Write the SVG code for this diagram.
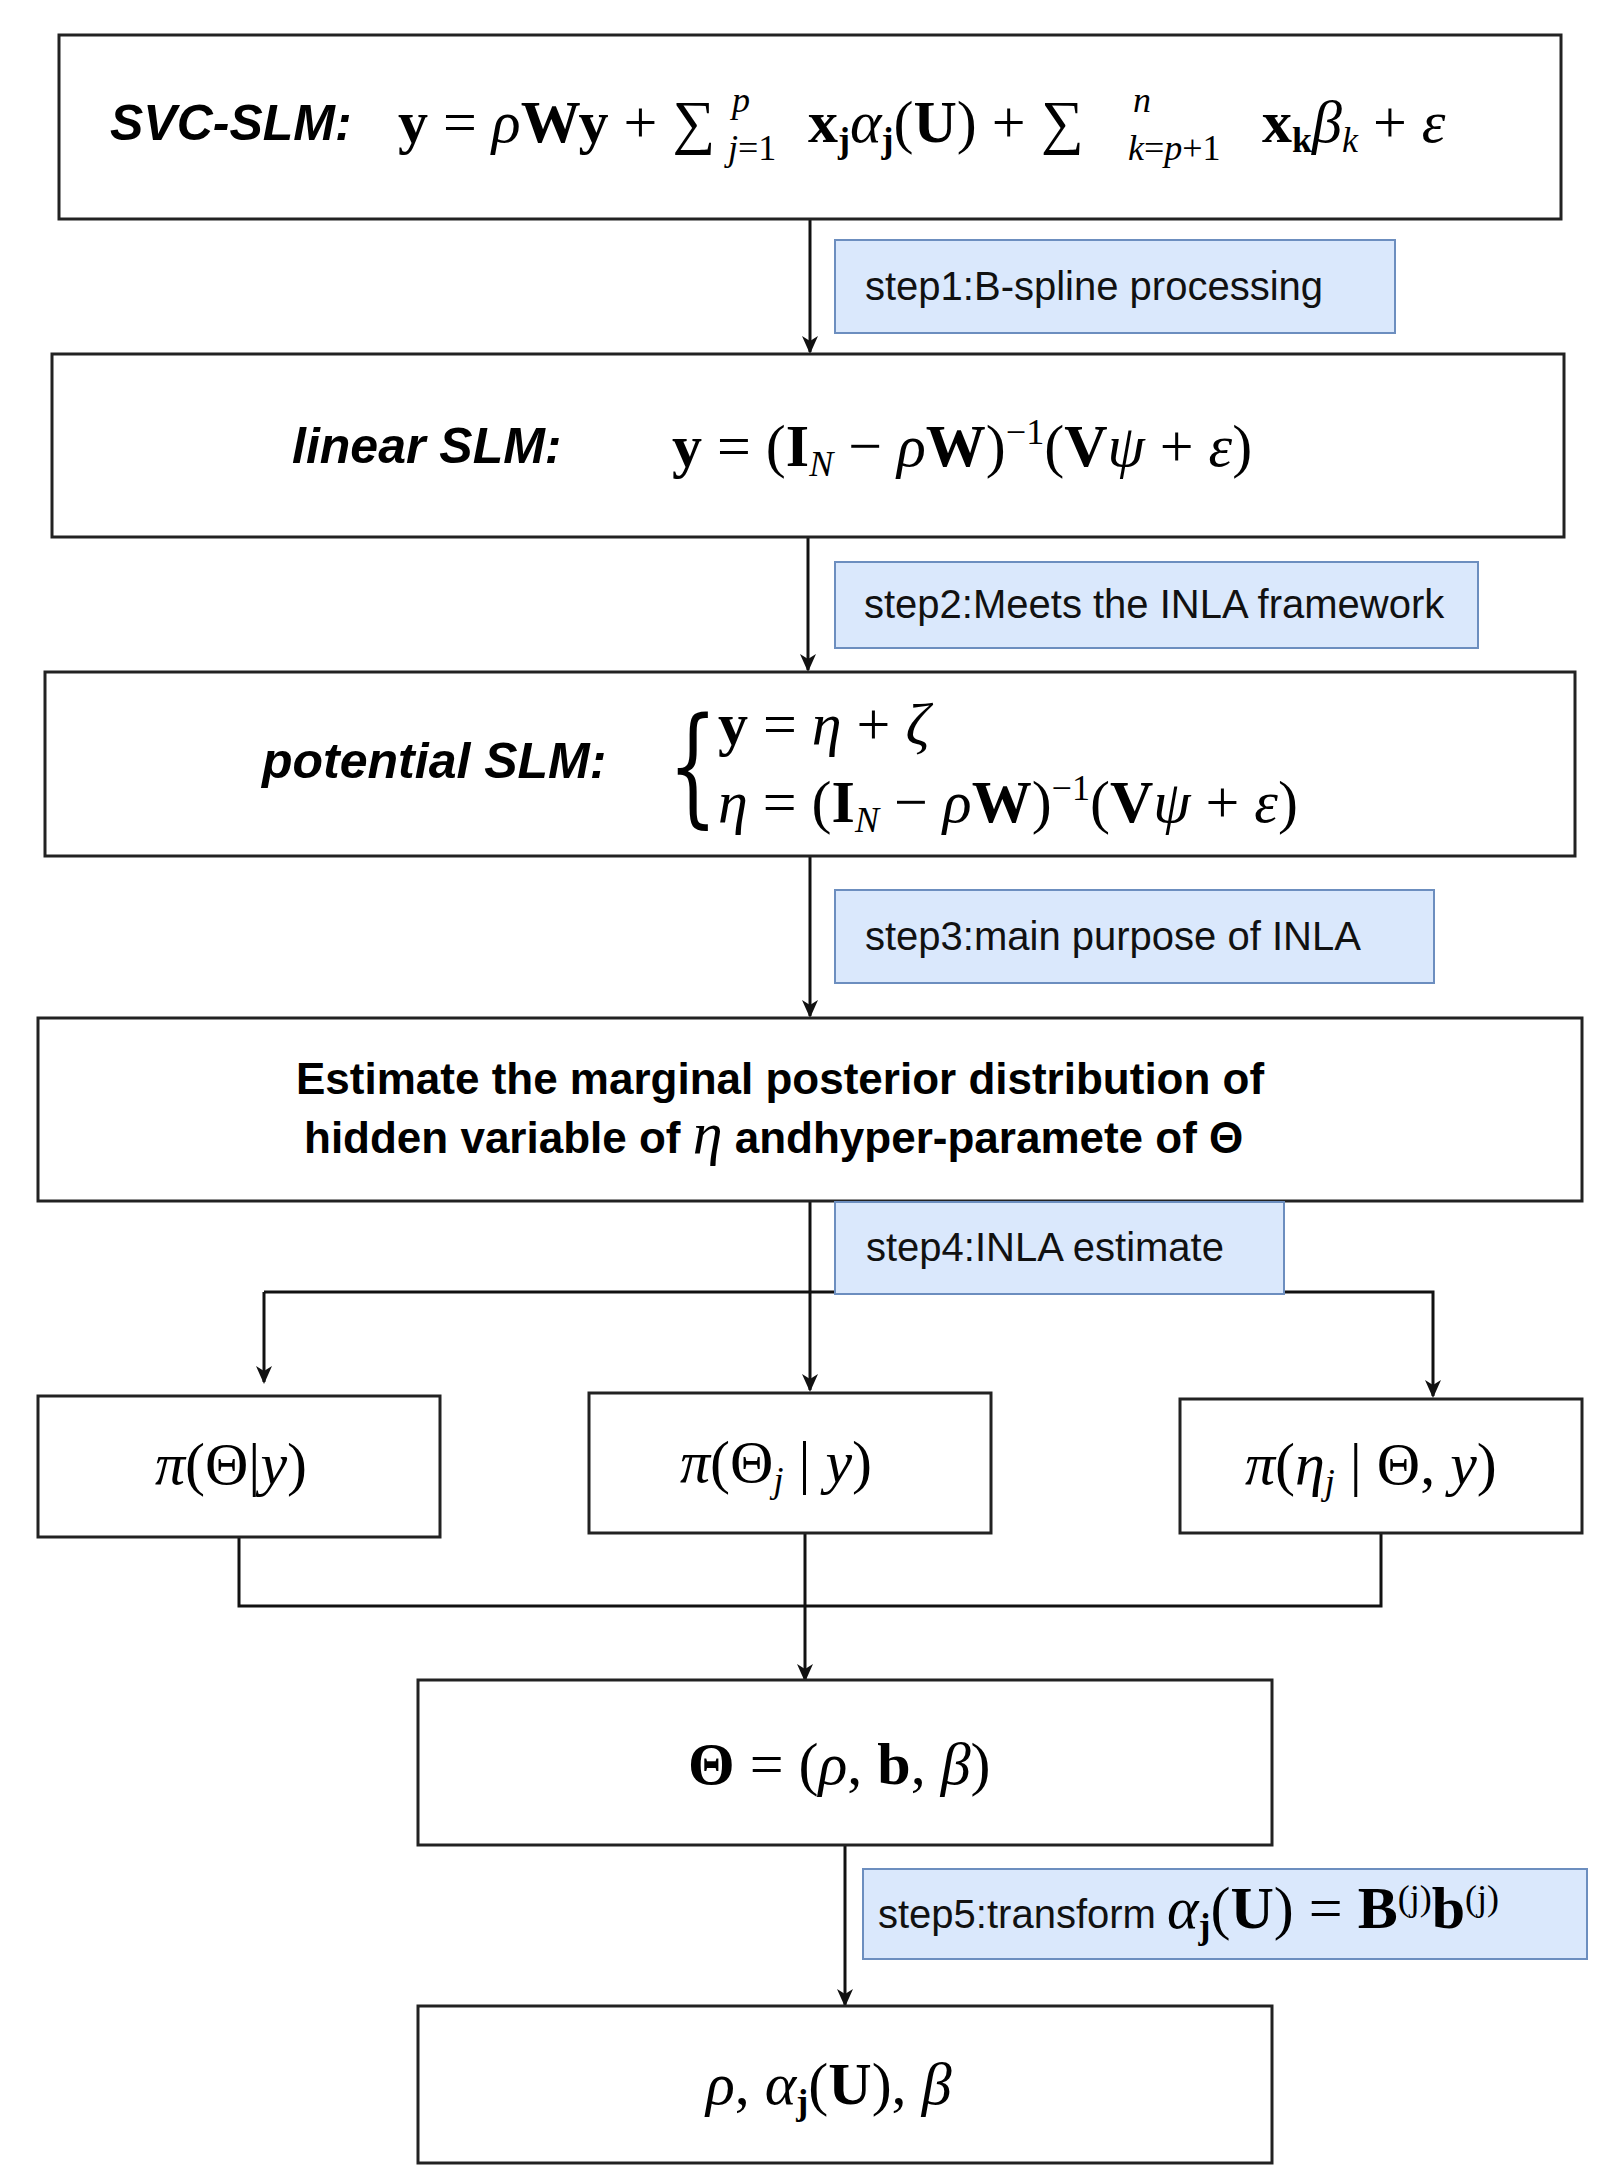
<svg xmlns="http://www.w3.org/2000/svg" width="1620" height="2176" viewBox="0 0 1620 2176">
<style>
.box{fill:#fff;stroke:#222;stroke-width:3}
.step{fill:#dae8fc;stroke:#6c8ebf;stroke-width:2}
.st{font-family:"Liberation Sans",Arial,sans-serif;font-size:40px;fill:#111}
.lab{font-family:"Liberation Sans",Arial,sans-serif;font-size:50px;font-weight:bold;font-style:italic;fill:#000}
.m{font-family:"Liberation Serif","DejaVu Serif",serif;font-size:60px;fill:#000}
.b{font-weight:bold}
.i{font-style:italic}
.s{font-size:36px}
.h{font-family:"Liberation Sans",Arial,sans-serif;font-size:44px;font-weight:bold;fill:#000}
.ln{fill:none;stroke:#111;stroke-width:3}
</style>
<defs><marker id="a" markerWidth="20" markerHeight="24" refX="16" refY="10" orient="auto" markerUnits="userSpaceOnUse" viewBox="0 0 20 20"><path d="M0,2 L18,10 L0,18 L5,10 Z" fill="#111"/></marker></defs>
<g id="connectors">
<line class="ln" x1="810" y1="219" x2="810" y2="352" marker-end="url(#a)"/>
<line class="ln" x1="808" y1="537" x2="808" y2="670" marker-end="url(#a)"/>
<line class="ln" x1="810" y1="856" x2="810" y2="1016" marker-end="url(#a)"/>
<line class="ln" x1="810" y1="1201" x2="810" y2="1390" marker-end="url(#a)"/>
<polyline class="ln" points="264,1292 1433,1292 1433,1396" marker-end="url(#a)"/>
<line class="ln" x1="264" y1="1292" x2="264" y2="1382" marker-end="url(#a)"/>
<polyline class="ln" points="239,1537 239,1606 1381,1606 1381,1533"/>
<line class="ln" x1="805" y1="1533" x2="805" y2="1680" marker-end="url(#a)"/>
<line class="ln" x1="845" y1="1845" x2="845" y2="2005" marker-end="url(#a)"/>
</g>
<g id="n1"><rect class="box" x="59" y="35" width="1502" height="184"/>
<text class="lab" x="110" y="140" font-size="48">SVC-SLM:</text>
<text class="m" x="398" y="142"><tspan class="b">y</tspan> = <tspan class="i">ρ</tspan><tspan class="b">Wy</tspan> + ∑</text>
<text class="m s i" x="728" y="160">j<tspan font-style="normal">=1</tspan></text>
<text class="m s i" x="732" y="112">p</text>
<text class="m" x="808" y="142"><tspan class="b">x</tspan><tspan class="b s" dy="10">j</tspan><tspan class="i" dy="-10">α</tspan><tspan class="b s" dy="10">j</tspan><tspan dy="-10">(<tspan class="b">U</tspan>) + ∑</tspan></text>
<text class="m s i" x="1128" y="160">k<tspan font-style="normal">=</tspan>p<tspan font-style="normal">+1</tspan></text>
<text class="m s i" x="1133" y="112">n</text>
<text class="m" x="1262" y="142"><tspan class="b">x</tspan><tspan class="b s" dy="10">k</tspan><tspan class="i" dy="-10">β</tspan><tspan class="i s" dy="10">k</tspan><tspan dy="-10"> + <tspan class="i">ε</tspan></tspan></text></g>
<g id="s1"><rect class="step" x="835" y="240" width="560" height="93"/><text class="st" x="865" y="300">step1:B-spline processing</text></g>
<g id="n2"><rect class="box" x="52" y="354" width="1512" height="183"/>
<text class="lab" x="292" y="463">linear SLM:</text>
<text class="m" x="672" y="466"><tspan class="b">y</tspan> = (<tspan class="b">I</tspan><tspan class="i s" dy="10">N</tspan><tspan dy="-10"> − </tspan><tspan class="i">ρ</tspan><tspan class="b">W</tspan>)<tspan class="s" dy="-22">−1</tspan><tspan dy="22">(</tspan><tspan class="b">V</tspan><tspan class="i">ψ</tspan> + <tspan class="i">ε</tspan>)</text></g>
<g id="s2"><rect class="step" x="835" y="562" width="643" height="86"/><text class="st" x="864" y="618">step2:Meets the INLA framework</text></g>
<g id="n3"><rect class="box" x="45" y="672" width="1530" height="184"/>
<text class="lab" x="262" y="778">potential SLM:</text>
<text x="668" y="810" font-family="DejaVu Serif,serif" font-size="130" transform="translate(668 0) scale(0.6 1) translate(-668 0)">{</text>
<text class="m" x="718" y="744"><tspan class="b">y</tspan> = <tspan class="i">η</tspan> + <tspan class="i">ζ</tspan></text>
<text class="m" x="718" y="822"><tspan class="i">η</tspan> = (<tspan class="b">I</tspan><tspan class="i s" dy="10">N</tspan><tspan dy="-10"> − </tspan><tspan class="i">ρ</tspan><tspan class="b">W</tspan>)<tspan class="s" dy="-22">−1</tspan><tspan dy="22">(</tspan><tspan class="b">V</tspan><tspan class="i">ψ</tspan> + <tspan class="i">ε</tspan>)</text></g>
<g id="s3"><rect class="step" x="835" y="890" width="599" height="93"/><text class="st" x="865" y="950">step3:main purpose of INLA</text></g>
<g id="n4"><rect class="box" x="38" y="1018" width="1544" height="183"/>
<text class="h" x="296" y="1094">Estimate the marginal posterior distribution of</text>
<text class="h" x="304" y="1153">hidden variable of <tspan class="m i" font-weight="normal" font-size="52">η</tspan> andhyper-paramete of Θ</text></g>
<g id="s4"><rect class="step" x="835" y="1202" width="449" height="92"/><text class="st" x="866" y="1261">step4:INLA estimate</text></g>
<g id="n5"><rect class="box" x="38" y="1396" width="402" height="141"/><text class="m" x="155" y="1484"><tspan class="i">π</tspan>(Θ|<tspan class="i">y</tspan>)</text></g>
<g id="n6"><rect class="box" x="589" y="1393" width="402" height="140"/><text class="m" x="680" y="1482"><tspan class="i">π</tspan>(Θ<tspan class="i s" dy="10">j</tspan><tspan dy="-10"> | </tspan><tspan class="i">y</tspan>)</text></g>
<g id="n7"><rect class="box" x="1180" y="1399" width="402" height="134"/><text class="m" x="1245" y="1484"><tspan class="i">π</tspan>(<tspan class="i">η</tspan><tspan class="i s" dy="10">j</tspan><tspan dy="-10"> | Θ, </tspan><tspan class="i">y</tspan>)</text></g>
<g id="n8"><rect class="box" x="418" y="1680" width="854" height="165"/><text class="m" x="688" y="1784"><tspan class="b">Θ</tspan> = (<tspan class="i">ρ</tspan>, <tspan class="b">b</tspan>, <tspan class="i">β</tspan>)</text></g>
<g id="s5"><rect class="step" x="863" y="1869" width="724" height="90"/><text x="878" y="1928"><tspan class="st">step5:transform </tspan><tspan class="m i" font-size="54">α</tspan><tspan class="m b s" dy="10">j</tspan><tspan class="m" font-size="54" dy="-10">(<tspan class="b">U</tspan>) = <tspan class="b">B</tspan></tspan><tspan class="m s" dy="-18">(j)</tspan><tspan class="m b" font-size="54" dy="18">b</tspan><tspan class="m s" dy="-18">(j)</tspan></text></g>
<g id="n9"><rect class="box" x="418" y="2006" width="854" height="157"/><text class="m" x="706" y="2104"><tspan class="i">ρ</tspan>, <tspan class="i">α</tspan><tspan class="b s" dy="10">j</tspan><tspan dy="-10">(<tspan class="b">U</tspan>), </tspan><tspan class="i">β</tspan></text></g>
</svg>
